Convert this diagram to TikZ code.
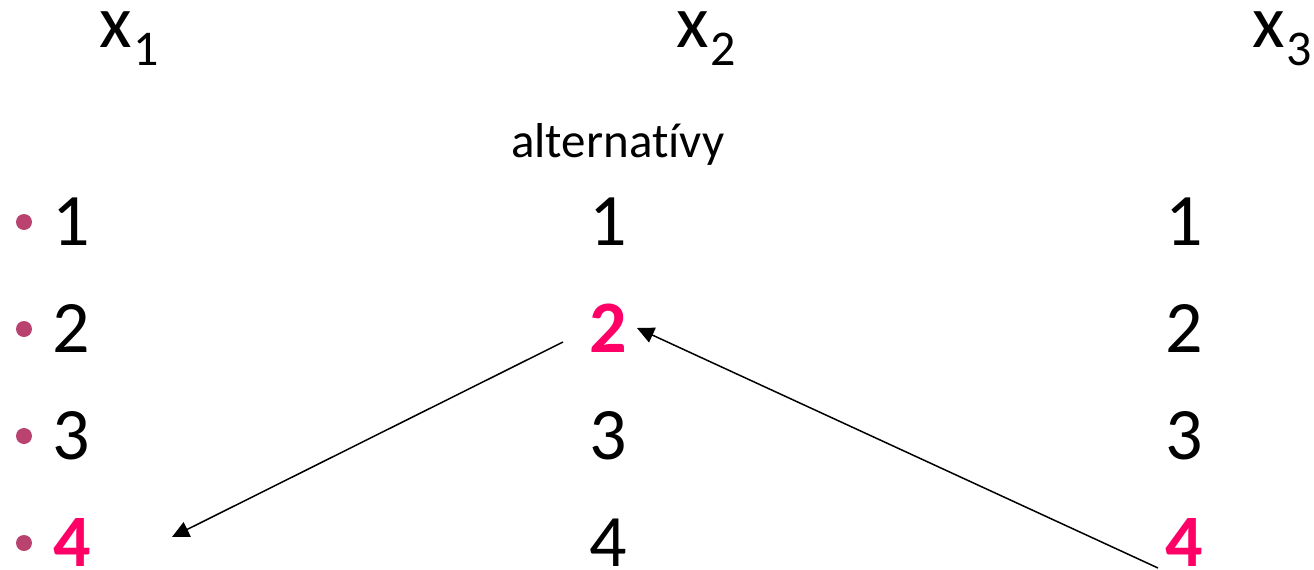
\documentclass[tikz,border=0pt]{standalone}
\usepackage{fontspec}
\setmainfont[Ligatures={NoCommon,NoRequired,NoContextual}]{Carlito}
\usetikzlibrary{arrows.meta}
\definecolor{hot}{RGB}{255,0,102}
\definecolor{bul}{RGB}{185,66,110}
\tikzset{
  num/.style={inner sep=0pt, anchor=base, font=\fontsize{74}{80}\selectfont},
  hnum/.style={num, text=hot, font=\fontsize{74}{80}\selectfont\bfseries},
  head/.style={inner sep=0pt, anchor=base west, font=\fontsize{75}{90}\selectfont},
  bulletdot/.style={circle, fill=bul, inner sep=0pt, minimum size=16pt},
  link/.style={line width=1.5pt, -{Triangle[length=17pt, width=16pt]}}
}
\newcommand{\hd}[1]{x\kern2pt\raisebox{-18pt}{\fontsize{50}{60}\selectfont #1}}
\begin{document}
\begin{tikzpicture}[x=1pt, y=-1pt]
\useasboundingbox (0,0) rectangle (1314,570);
% headers
\node[head] (h1) at (99,47) {\hd{1}};
\node[head] (h2) at (676,47) {\hd{2}};
\node[head] (h3) at (1252,47) {\hd{3}};
\node[inner sep=0pt, anchor=base west, font=\fontsize{49}{58}\selectfont] (alt) at (511,157) {alternat\kern0pt ívy};
% left column with bullets
\node[bulletdot] (b1) at (24,222) {};
\node[bulletdot] (b2) at (24,329) {};
\node[bulletdot] (b3) at (24,436) {};
\node[bulletdot] (b4) at (24,543) {};
\node[num] (l1) at (71,245) {1};
\node[num] (l2) at (71,352) {2};
\node[num] (l3) at (71,459) {3};
\node[hnum] (l4) at (72,566) {4};
% middle column
\node[num] (m1) at (608,245) {1};
\node[hnum] (m2) at (608,352) {2};
\node[num] (m3) at (608,459) {3};
\node[num] (m4) at (608,566) {4};
% right column
\node[num] (r1) at (1184,245) {1};
\node[num] (r2) at (1184,352) {2};
\node[num] (r3) at (1184,459) {3};
\node[hnum] (r4) at (1184,566) {4};
% connectors
\coordinate (s1) at (563,342);
\coordinate (e1) at (172,537);
\coordinate (s2) at (1158,568);
\coordinate (e2) at (637,328);
\draw[link] (s1) -- (e1);
\draw[link] (s2) -- (e2);
\end{tikzpicture}
\end{document}
